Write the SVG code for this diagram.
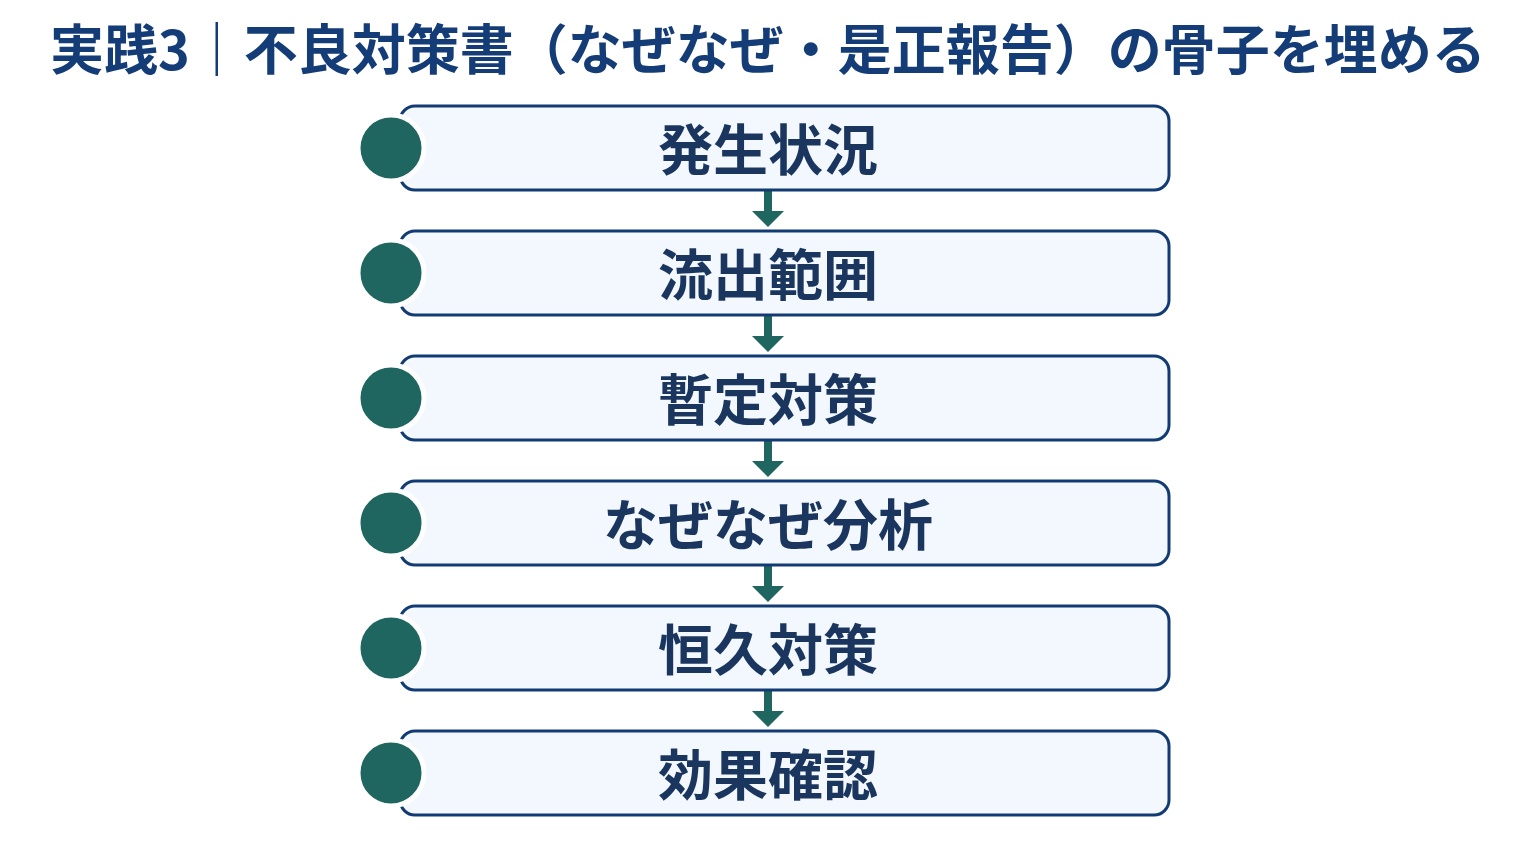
<svg xmlns="http://www.w3.org/2000/svg" width="1536" height="864" viewBox="0 0 1536 864">
<defs>
<style>
.t{font-family:"Noto Sans CJK JP","Noto Sans",sans-serif;font-weight:700;fill:#143d78}
.box{fill:#f3f8fe;stroke:#123b74;stroke-width:3}
.dot{fill:#1f6560;stroke:#ffffff;stroke-width:5}
.lbl{font-family:"Noto Sans CJK JP","Noto Sans",sans-serif;font-weight:700;fill:#1a365f;font-size:55px;text-anchor:middle}
.arr{fill:#1f6560}
</style>
</defs>
<rect width="1536" height="864" fill="#ffffff"/>
<text class="t" x="50" y="70" font-size="54">実践3｜不良対策書（なぜなぜ・是正報告）の骨子を埋める</text>
<g id="connectors">
<path class="arr" d="M764 191h8v20h12l-16 16l-16-16h12z"/>
<path class="arr" d="M764 316h8v20h12l-16 16l-16-16h12z"/>
<path class="arr" d="M764 441h8v20h12l-16 16l-16-16h12z"/>
<path class="arr" d="M764 566h8v20h12l-16 16l-16-16h12z"/>
<path class="arr" d="M764 691h8v20h12l-16 16l-16-16h12z"/>
</g>
<g id="n1"><rect class="box" x="400" y="106" width="769" height="84" rx="15"/><circle class="dot" cx="391" cy="148" r="33"/><text class="lbl" x="768" y="170">発生状況</text></g>
<g id="n2"><rect class="box" x="400" y="231" width="769" height="84" rx="15"/><circle class="dot" cx="391" cy="273" r="33"/><text class="lbl" x="768" y="295">流出範囲</text></g>
<g id="n3"><rect class="box" x="400" y="356" width="769" height="84" rx="15"/><circle class="dot" cx="391" cy="398" r="33"/><text class="lbl" x="768" y="420">暫定対策</text></g>
<g id="n4"><rect class="box" x="400" y="481" width="769" height="84" rx="15"/><circle class="dot" cx="391" cy="523" r="33"/><text class="lbl" x="768" y="545">なぜなぜ分析</text></g>
<g id="n5"><rect class="box" x="400" y="606" width="769" height="84" rx="15"/><circle class="dot" cx="391" cy="648" r="33"/><text class="lbl" x="768" y="670">恒久対策</text></g>
<g id="n6"><rect class="box" x="400" y="731" width="769" height="84" rx="15"/><circle class="dot" cx="391" cy="773" r="33"/><text class="lbl" x="768" y="795">効果確認</text></g>
</svg>
